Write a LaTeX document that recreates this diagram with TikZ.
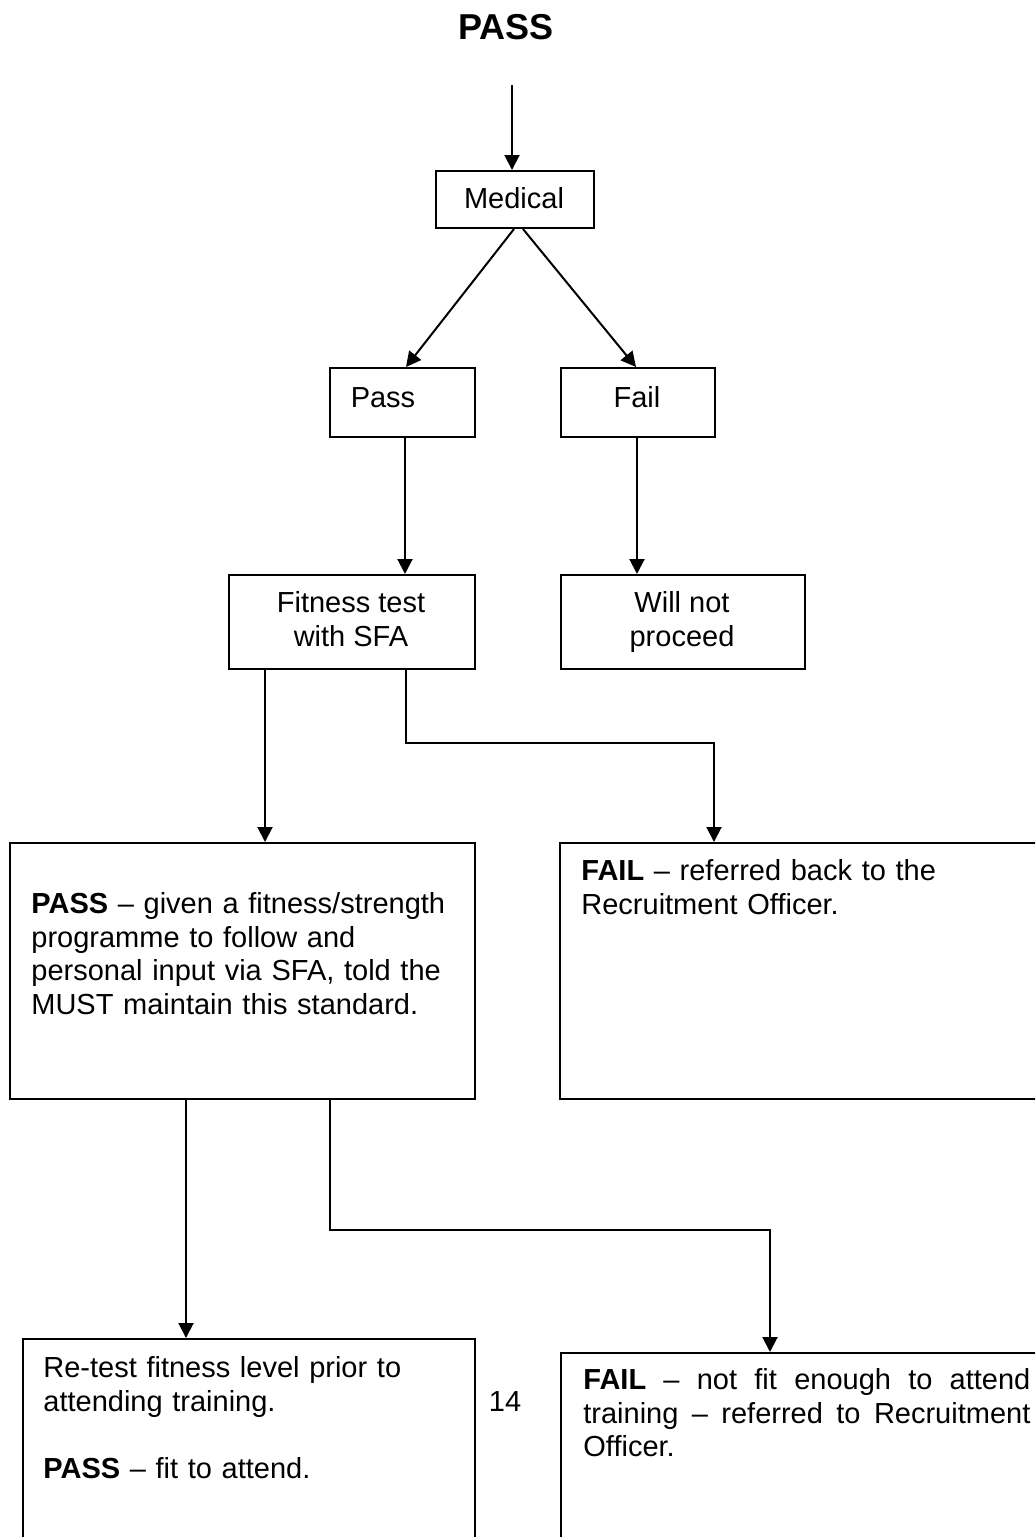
\documentclass[tikz,border=0pt]{standalone}
\usepackage{fontspec}
\setmainfont{Liberation Sans}
\usetikzlibrary{arrows.meta}
\begin{document}
\begin{tikzpicture}[x=0.5pt,y=-0.5pt,
  box/.style={draw, line width=1pt, inner sep=0pt, anchor=north west},
  arr/.style={line width=1pt, -{Triangle[length=7.5pt,width=7.5pt]}},
  lbl/.style={inner sep=0pt, font=\fontsize{14.5}{16.85}\selectfont},
  para/.style={lbl, anchor=north west, text width=#1, align=left},
]
\fill[white] (0,0) rectangle (1035,1537);
\useasboundingbox (0,0) rectangle (1035,1537);
\clip (0,0) rectangle (1035,1537);

% title
\node[inner sep=0pt, anchor=base, font=\fontsize{18}{21}\selectfont\bfseries] (title) at (506,39) {PASS};

% boxes
\node[box, minimum width=79pt,   minimum height=28.5pt] (med)  at (435,170) {};
\node[box, minimum width=72.5pt, minimum height=34.5pt] (pass) at (329,367) {};
\node[box, minimum width=77pt,   minimum height=34.5pt] (fail) at (560,367) {};
\node[box, minimum width=123pt,  minimum height=47pt]   (fit)  at (228,574) {};
\node[box, minimum width=122pt,  minimum height=47pt]   (wnp)  at (560,574) {};
\node[box, minimum width=232.5pt,minimum height=128pt]  (pbig) at (9,842) {};
\node[box, minimum width=243pt,  minimum height=128pt]  (fbig) at (559,842) {};
\node[box, minimum width=226pt,  minimum height=111pt]  (bl)   at (22,1338) {};
\node[box, minimum width=242.5pt,minimum height=104pt]  (br)   at (560,1352) {};

% texts
\node[lbl, anchor=base] (tmed)  at (514,208) {Medical};
\node[lbl, anchor=base] (tpass) at (383,407) {Pass};
\node[lbl, anchor=base] (tfail) at (637,407) {Fail};
\node[lbl, anchor=north, align=center] (tfit) at (351,588) {\rule{0pt}{12pt}Fitness test\\with SFA};
\node[lbl, anchor=north, align=center] (twnp) at (682,588) {\rule{0pt}{12pt}Will not\\proceed};
\node[para=225pt] (tpbig) at (31,889) {\noindent\rule{0pt}{12pt}\textbf{PASS} -- given a fitness/strength\\programme to follow and\\personal input via SFA, told the\\MUST maintain this standard.};
\node[para=225pt] (tfbig) at (581,856) {\noindent\rule{0pt}{12pt}\textbf{FAIL} -- referred back to the\\Recruitment Officer.};
\node[para=215pt] (tbl) at (43,1353) {\noindent\rule{0pt}{12pt}Re-test fitness level prior to\\attending training.\\[16.85pt]\textbf{PASS} -- fit to attend.};
\node[lbl, anchor=north west, text width=223.5pt, align=justify] (tbr) at (583,1365) {\noindent\rule{0pt}{12pt}\textbf{FAIL} -- not fit enough to attend\linebreak training -- referred to Recruitment\linebreak Officer.};
\node[lbl, anchor=base] (pnum) at (505,1411) {14};

% connectors
\coordinate (start) at (512,85);
\draw[arr] (start) -- (start |- med.north);
\draw[arr] ([xshift=-0.5pt]med.south) -- ([xshift=1.75pt]pass.north);
\draw[arr] ([xshift=4pt]med.south) -- ([xshift=-1pt]fail.north);
\draw[arr] ([xshift=1.25pt]pass.south) -- ([xshift=1.25pt]pass.south |- fit.north);
\draw[arr] ([xshift=-0.5pt]fail.south) -- ([xshift=-0.5pt]fail.south |- wnp.north);
\draw[arr] ([xshift=18.5pt]fit.south west) -- ([xshift=18.5pt]fit.south west |- pbig.north);
\draw[arr] ([xshift=-35pt]fit.south east) -- ++(0,-36.5pt) -| ([xshift=77.5pt]fbig.north west);
\draw[arr] ([xshift=88.5pt]pbig.south west) -- ([xshift=88.5pt]pbig.south west |- bl.north);
\draw[arr] ([xshift=160.5pt]pbig.south west) -- ++(0,-65pt) -| ([xshift=105pt]br.north west);
\end{tikzpicture}
\end{document}
